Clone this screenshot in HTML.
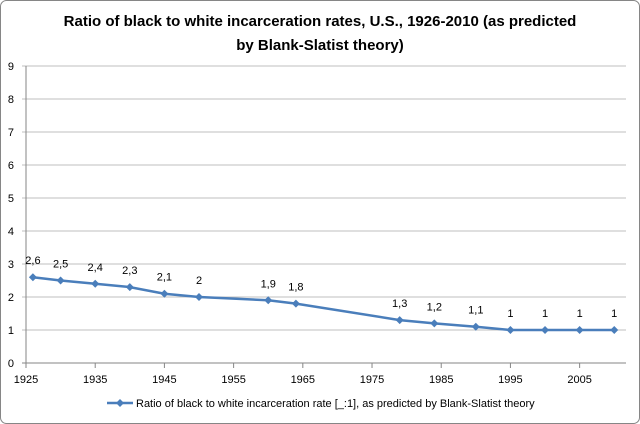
<!DOCTYPE html>
<html><head><meta charset="utf-8"><style>
body{margin:0;background:#fff;font-family:"Liberation Sans",sans-serif}
svg{display:block}
</style></head><body>
<svg width="640" height="424" xmlns="http://www.w3.org/2000/svg">
<rect x="0.5" y="0.5" width="639" height="423" rx="6" fill="#fff" stroke="#868686"/>
<text x="320" y="26" text-anchor="middle" font-size="15" font-weight="bold" fill="#000">Ratio of black to white incarceration rates, U.S., 1926-2010 (as predicted</text>
<text x="320" y="50" text-anchor="middle" font-size="15" font-weight="bold" fill="#000">by Blank-Slatist theory)</text>
<g id="grid"></g><g id="axes"></g><g id="series"></g>
<g>
<line x1="107" y1="403" x2="133" y2="403" stroke="#4a7ebb" stroke-width="2.5"/>
<path d="M120 399 L124 403 L120 407 L116 403Z" fill="#4a7ebb"/>
<text x="136" y="407" font-size="11" fill="#000">Ratio of black to white incarceration rate [_:1], as predicted by Blank-Slatist theory</text>
</g>
</svg>
<script>
const years=[1926,1930,1935,1940,1945,1950,1960,1964,1979,1984,1990,1995,2000,2005,2010];
const ratios=[2.6,2.5,2.4,2.3,2.1,2,1.9,1.8,1.3,1.2,1.1,1,1,1,1];
const labels=["2,6","2,5","2,4","2,3","2,1","2","1,9","1,8","1,3","1,2","1,1","1","1","1","1"];
const xTicks=[1925,1935,1945,1955,1965,1975,1985,1995,2005];
const yTicks=[0,1,2,3,4,5,6,7,8,9];
const NS="http://www.w3.org/2000/svg";
const L=26,R=626,T=66,B=363,X0=1925,X1=2011.7,Y1=9;
const xs=v=>L+(v-X0)/(X1-X0)*(R-L);
const ys=v=>B-v/Y1*(B-T);
function mk(t,a,p){const e=document.createElementNS(NS,t);for(const k in a)e.setAttribute(k,a[k]);p.appendChild(e);return e;}
const grid=document.getElementById('grid'),axes=document.getElementById('axes'),ser=document.getElementById('series');
yTicks.forEach(v=>{
 const g=mk('line',{x1:L-4,x2:R,y1:ys(v),y2:ys(v),stroke:v===0?'#868686':'#bfbfbf'},grid);
 
 
 const t=mk('text',{x:L-12,y:ys(v)+4,'text-anchor':'end','font-size':'11',fill:'#000'},axes);
 t.textContent=v;
 
 
});
mk('line',{x1:L,x2:L,y1:T,y2:B,stroke:'#868686'},axes);
xTicks.forEach(v=>{
 mk('line',{x1:xs(v),x2:xs(v),y1:B,y2:B+5,stroke:'#868686'},axes);
 const t=mk('text',{x:xs(v),y:B+20,'text-anchor':'middle','font-size':'11',fill:'#000'},axes);
 t.textContent=v;
 
 
});
const line=mk('polyline',{points:years.map((y,i)=>xs(y)+','+ys(ratios[i])).join(' '),fill:'none',stroke:'#4a7ebb','stroke-width':'2.5'},ser);


years.forEach((y,i)=>{
 const cx=xs(y),cy=ys(ratios[i]);
 const m=mk('path',{d:`M${cx} ${cy-4}L${cx+4} ${cy}L${cx} ${cy+4}L${cx-4} ${cy}Z`,fill:'#4a7ebb'},ser);
 
 
 const t=mk('text',{x:cx,y:cy-13,'text-anchor':'middle','font-size':'11',fill:'#000'},ser);
 t.textContent=labels[i];
 
 
});
</script>
</body></html>
